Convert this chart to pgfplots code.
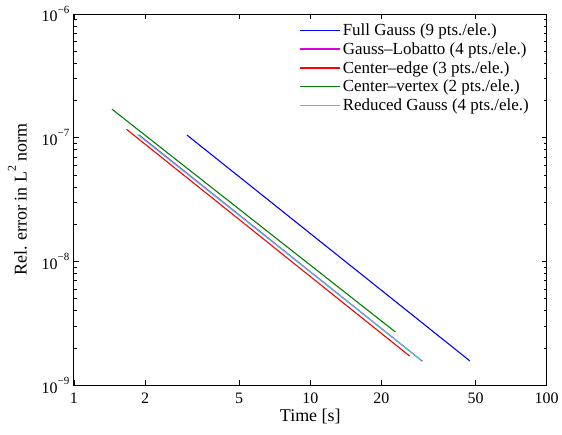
\documentclass[border=0pt]{standalone}
\usepackage{fontspec}
\setmainfont{Liberation Serif}
\usepackage{pgfplots}
\pgfplotsset{compat=1.18}
\definecolor{mblue}{rgb}{0,0,1}
\definecolor{mmag}{rgb}{0.85,0,0.85}
\definecolor{mred}{rgb}{1,0,0}
\definecolor{mgreen}{rgb}{0,0.5,0}
\definecolor{mcyan}{rgb}{0.25,0.8,0.8}
\newcommand{\sexp}[1]{10\raisebox{0.55em}{\fontsize{11}{12}\selectfont #1}}
\begin{document}
\begin{tikzpicture}
\begin{axis}[
  scale only axis, width=474pt, height=372pt,
  xmode=log, ymode=log,
  xmin=1, xmax=100, ymin=1e-9, ymax=1e-6,
  xtick={1,2,5,10,20,50,100},
  xticklabels={1,2,5,10,20,50,100},
  minor xtick={},
  ytick={1e-9,1e-8,1e-7,1e-6},
  yticklabels={\sexp{−9},\sexp{−8},\sexp{−7},\sexp{−6}},
  minor ytick={2e-9,3e-9,4e-9,5e-9,6e-9,7e-9,8e-9,9e-9,2e-8,3e-8,4e-8,5e-8,6e-8,7e-8,8e-8,9e-8,2e-7,3e-7,4e-7,5e-7,6e-7,7e-7,8e-7,9e-7},
  major tick length=5pt, minor tick length=3pt,
  tick style={black, line width=0.6pt},
  axis line style={line width=0.8pt},
  ticklabel style={font=\fontsize{16}{18}\selectfont},
  xticklabel style={yshift=-4.5pt},
  yticklabel style={xshift=-1pt},
  xlabel={Time [s]},
  ylabel={Rel. error in L\raisebox{0.6em}{\fontsize{12}{13}\selectfont 2} norm},
  xlabel style={font=\fontsize{18}{20}\selectfont, yshift=2pt},
  ylabel style={font=\fontsize{18}{20}\selectfont, yshift=8pt},
  legend style={at={(0.47,0.985)}, anchor=north west, draw=none, fill=none,
    font=\fontsize{17}{19}\selectfont, row sep=1.5pt,
    /tikz/every even column/.append style={column sep=0pt}},
  legend cell align=left,
  legend image code/.code={\draw[#1, line width=1.6pt] (0pt,0pt) -- (40pt,0pt);},
  every axis plot/.append style={line width=1.1pt},
]
\addplot[mblue] coordinates {(3.01,1.05e-7) (47.3,1.57e-9)};
\addlegendentry{Full Gauss (9 pts./ele.)}
\addplot[mmag] coordinates {(1.89,1.05e-7) (29.8,1.56e-9)};
\addlegendentry{Gauss–Lobatto (4 pts./ele.)}
\addplot[mred] coordinates {(1.67,1.17e-7) (26.3,1.72e-9)};
\addlegendentry{Center–edge (3 pts./ele.)}
\addplot[mgreen] coordinates {(1.45,1.70e-7) (22.9,2.69e-9)};
\addlegendentry{Center–vertex (2 pts./ele.)}
\addplot[mcyan] coordinates {(1.86,1.06e-7) (29.5,1.58e-9)};
\addlegendentry{Reduced Gauss (4 pts./ele.)}
\end{axis}
\path (current axis.south west) ++(-74pt,-50pt) coordinate (bl);
\path (current axis.north east) ++(14pt,14pt) coordinate (tr);
\useasboundingbox (bl) rectangle (tr);
\end{tikzpicture}
\end{document}
